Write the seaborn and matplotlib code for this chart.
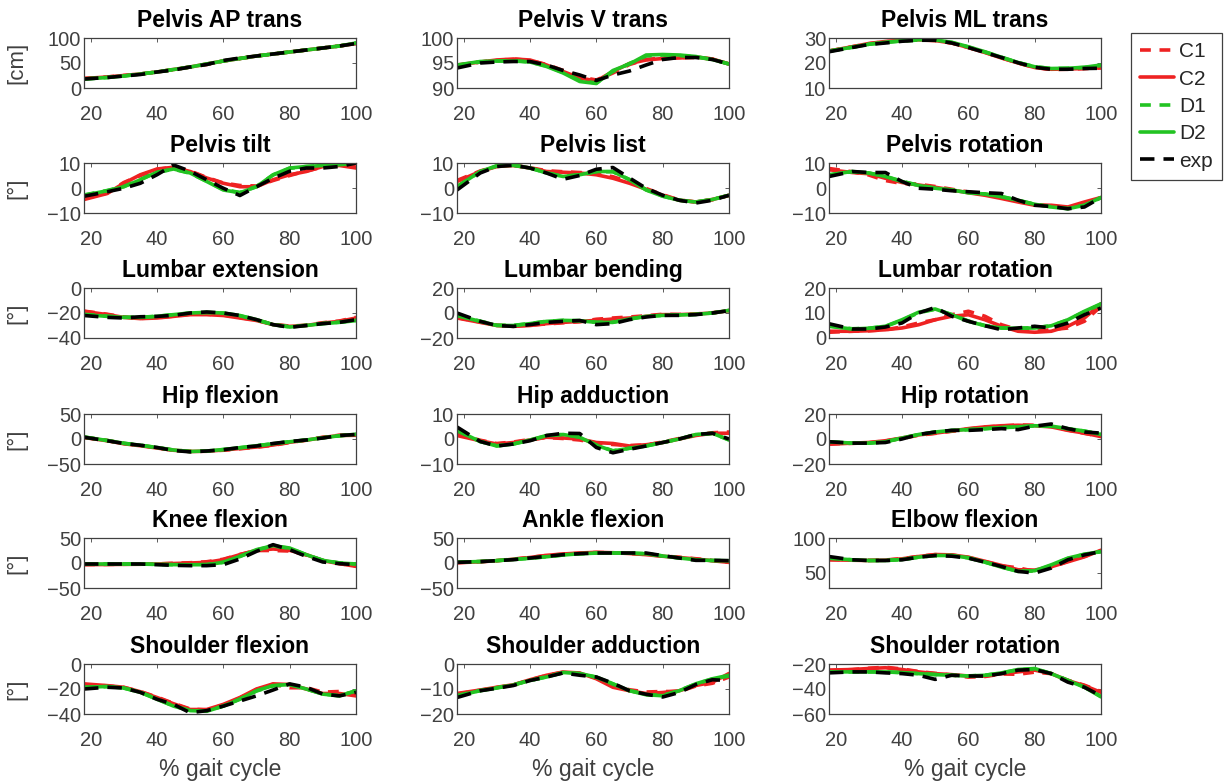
import matplotlib
matplotlib.use("Agg")
import matplotlib.pyplot as plt
import seaborn as sns

# gait cycle samples (% of cycle)
gait = [18, 25, 30, 35, 40, 45, 50, 55, 60, 65, 70, 75, 80, 85, 90, 95, 100]

# ---- values, one dict per panel ----
pelvis_ap = {
    "C1": [19, 22, 25, 28, 32, 37, 42, 47, 54, 59, 64, 68, 72, 76, 80, 84, 89],
    "C2": [19, 22, 25, 28, 32, 37, 42, 48, 54, 59, 64, 68, 72, 76, 80, 84, 89],
    "D1": [18, 21, 24, 28, 32, 37, 42, 48, 54, 59, 64, 68, 72, 76, 80, 84, 90],
    "D2": [18, 21, 24, 28, 32, 37, 42, 48, 54, 59, 64, 68, 72, 76, 80, 84, 90],
    "exp": [18, 21, 24, 27, 32, 36, 42, 47, 55, 60, 64, 68, 72, 76, 80, 84, 89],
}
pelvis_v = {
    "C1": [94.5, 95.2, 95.5, 95.8, 95.5, 94.7, 93.5, 92.2, 91.6, 93.0, 94.7, 95.7, 96.0, 96.1, 96.1, 95.8, 94.8],
    "C2": [94.6, 95.2, 95.6, 95.8, 95.6, 94.6, 93.3, 92.0, 91.4, 93.3, 94.9, 95.6, 95.9, 96.0, 96.2, 95.8, 94.8],
    "D1": [94.5, 95.2, 95.4, 95.5, 95.2, 94.4, 93.1, 91.5, 91.0, 93.3, 94.9, 96.4, 96.6, 96.5, 96.2, 95.7, 94.8],
    "D2": [94.6, 95.3, 95.4, 95.4, 95.2, 94.3, 93.0, 91.3, 90.9, 93.5, 94.8, 96.6, 96.7, 96.6, 96.3, 95.7, 94.8],
    "exp": [94.0, 95.0, 95.2, 95.3, 95.3, 94.6, 93.5, 92.6, 91.5, 92.6, 93.4, 94.6, 95.7, 96.1, 96.1, 95.7, 94.8],
}
pelvis_ml = {
    "C1": [24.8, 26.5, 27.7, 28.5, 29.0, 29.2, 29.0, 28.0, 26.2, 24.3, 22.1, 20.0, 18.2, 17.4, 17.5, 17.8, 18.0],
    "C2": [24.8, 26.5, 27.8, 28.6, 29.0, 29.3, 29.0, 28.0, 26.2, 24.2, 22.0, 20.0, 18.2, 17.5, 17.6, 17.8, 18.2],
    "D1": [24.7, 26.3, 27.5, 28.2, 28.8, 29.2, 29.1, 28.2, 26.4, 24.4, 22.3, 20.2, 18.5, 17.8, 17.9, 18.2, 19.0],
    "D2": [24.8, 26.3, 27.5, 28.3, 28.9, 29.3, 29.2, 28.3, 26.5, 24.5, 22.3, 20.2, 18.5, 17.8, 17.9, 18.3, 19.2],
    "exp": [24.5, 26.2, 27.4, 28.0, 28.7, 29.1, 29.1, 28.0, 26.2, 24.2, 22.2, 20.1, 18.3, 17.5, 17.5, 17.8, 17.9],
}
pelvis_tilt = {
    "C1": [-4.3, -2.0, 2.2, 5.0, 7.4, 8.4, 6.8, 4.2, 2.0, 1.0, 0.8, 3.0, 5.0, 6.8, 8.4, 9.2, 8.6],
    "C2": [-4.6, -2.2, 1.9, 5.3, 7.6, 8.3, 6.6, 4.0, 1.9, 0.5, 0.5, 3.3, 5.3, 6.6, 8.6, 9.0, 8.0],
    "D1": [-2.8, -1.0, 0.6, 3.4, 6.3, 7.5, 5.9, 2.7, -0.6, -1.8, 0.6, 5.2, 7.9, 8.6, 9.0, 9.3, 10.0],
    "D2": [-2.9, -1.1, 0.5, 3.3, 6.3, 7.6, 6.0, 2.6, -0.8, -1.9, 0.5, 5.3, 8.0, 8.6, 9.0, 9.3, 10.0],
    "exp": [-3.3, -1.5, -0.1, 1.9, 5.3, 9.2, 6.7, 3.3, -0.1, -3.0, 0.5, 3.9, 6.7, 8.0, 8.0, 8.6, 10.0],
}
pelvis_list = {
    "C1": [3.0, 6.8, 8.7, 9.1, 8.1, 6.9, 6.5, 6.2, 5.7, 4.5, 2.4, -0.2, -2.7, -4.8, -5.6, -4.7, -3.0],
    "C2": [2.6, 6.6, 8.6, 9.0, 8.0, 6.6, 6.3, 6.0, 5.3, 3.9, 1.9, -0.5, -2.9, -4.9, -5.6, -4.6, -2.9],
    "D1": [0.6, 6.5, 8.8, 9.1, 8.0, 6.1, 4.7, 5.3, 6.5, 6.5, 3.4, -0.7, -3.2, -4.9, -5.6, -4.6, -2.9],
    "D2": [0.5, 6.6, 8.9, 9.1, 8.0, 6.0, 4.6, 5.3, 6.6, 6.6, 3.3, -0.8, -3.3, -4.9, -5.6, -4.6, -2.9],
    "exp": [-0.8, 6.0, 8.6, 9.1, 8.0, 6.0, 3.5, 5.0, 7.5, 8.2, 4.0, -0.1, -2.9, -4.9, -6.0, -4.9, -2.9],
}
pelvis_rot = {
    "C1": [7.8, 6.5, 5.2, 3.0, 1.8, 1.5, 0.6, -0.5, -1.6, -2.6, -3.9, -5.3, -6.6, -7.2, -7.8, -6.0, -3.9],
    "C2": [7.3, 6.2, 5.7, 3.9, 2.2, 1.2, 0.3, -0.8, -1.9, -2.9, -4.2, -5.6, -6.9, -6.9, -7.6, -5.6, -3.8],
    "D1": [5.2, 6.5, 6.0, 4.7, 2.7, 1.1, 0.0, -0.8, -1.8, -2.4, -3.4, -4.9, -6.5, -7.5, -8.2, -6.9, -3.9],
    "D2": [5.3, 6.6, 6.0, 4.6, 2.6, 1.0, -0.1, -0.8, -1.9, -2.4, -3.5, -4.9, -6.5, -7.6, -8.3, -6.9, -3.8],
    "exp": [4.6, 6.6, 6.2, 6.2, 2.6, -0.1, -0.5, -1.1, -1.5, -1.9, -2.2, -4.9, -6.9, -7.4, -8.3, -7.6, -3.8],
}
lumbar_ext = {
    "C1": [-18.5, -21.0, -23.2, -24.3, -23.8, -22.5, -21.0, -21.0, -21.6, -23.6, -25.8, -29.0, -30.5, -29.8, -27.8, -26.4, -23.5],
    "C2": [-18.7, -21.3, -23.5, -24.5, -24.0, -22.7, -21.3, -21.3, -22.0, -24.0, -26.0, -29.3, -30.7, -30.0, -28.0, -26.7, -24.0],
    "D1": [-21.0, -22.5, -23.4, -23.4, -22.6, -21.3, -20.1, -19.6, -20.2, -22.2, -25.5, -29.2, -31.0, -29.8, -28.4, -27.3, -25.8],
    "D2": [-21.3, -22.7, -23.5, -23.5, -22.7, -21.3, -20.0, -19.5, -20.0, -22.0, -25.3, -29.3, -31.2, -30.0, -28.5, -27.5, -26.1],
    "exp": [-22.0, -23.5, -24.0, -23.0, -22.7, -21.9, -20.0, -19.2, -20.0, -22.0, -25.3, -29.3, -31.5, -30.0, -28.5, -27.5, -25.3],
}
lumbar_bend = {
    "C1": [-3.6, -7.2, -9.8, -10.4, -9.6, -8.8, -7.8, -7.0, -5.0, -4.0, -3.2, -2.2, -1.0, -1.2, -0.8, 0.2, 2.0],
    "C2": [-4.0, -7.5, -10.0, -10.7, -10.0, -8.5, -7.5, -6.7, -5.9, -4.8, -4.0, -2.7, -1.3, -1.3, -0.8, 0.0, 1.9],
    "D1": [-2.0, -6.5, -9.8, -9.9, -8.4, -6.6, -5.9, -6.1, -7.4, -7.4, -4.8, -2.7, -1.9, -1.6, -1.1, 0.0, 2.0],
    "D2": [-2.1, -6.7, -10.0, -10.0, -8.5, -6.7, -5.9, -6.2, -7.5, -7.5, -4.8, -2.7, -1.9, -1.6, -1.1, 0.0, 2.1],
    "exp": [0.0, -6.7, -10.0, -10.7, -9.3, -7.5, -6.7, -6.0, -9.3, -8.5, -5.3, -3.2, -1.9, -1.9, -1.3, 0.0, 1.9],
}
lumbar_rot = {
    "C1": [2.3, 2.7, 2.9, 3.3, 4.4, 6.0, 7.3, 9.3, 10.7, 8.7, 5.3, 3.3, 2.7, 3.3, 4.0, 6.7, 12.7],
    "C2": [2.7, 2.7, 2.9, 3.3, 4.0, 5.3, 7.3, 8.7, 9.3, 7.3, 4.7, 2.7, 2.3, 2.7, 4.7, 8.0, 13.7],
    "D1": [4.8, 3.7, 3.9, 4.6, 7.1, 10.1, 11.5, 9.4, 6.8, 5.0, 4.0, 3.9, 4.1, 4.9, 7.2, 10.5, 13.5],
    "D2": [4.7, 3.6, 3.9, 4.7, 7.3, 10.3, 11.6, 9.3, 6.7, 4.9, 4.0, 3.9, 4.0, 4.9, 7.3, 10.7, 13.7],
    "exp": [5.7, 3.6, 3.6, 4.4, 6.0, 10.0, 12.2, 8.7, 6.7, 4.9, 3.3, 4.0, 4.7, 4.0, 6.0, 9.3, 12.0],
}
hip_flex = {
    "C1": [3.5, -3.0, -9.0, -13.0, -17.5, -22.5, -24.5, -24.0, -22.5, -19.5, -16.5, -12.5, -7.0, -2.0, 3.5, 7.5, 8.0],
    "C2": [3.0, -3.5, -9.5, -13.5, -18.0, -22.5, -25.0, -24.5, -22.0, -19.0, -16.0, -12.0, -6.5, -2.5, 3.0, 7.0, 7.5],
    "D1": [4.0, -3.0, -8.6, -12.6, -17.1, -22.1, -25.0, -24.1, -21.2, -17.4, -13.6, -9.4, -5.4, -2.0, 2.4, 6.4, 9.3],
    "D2": [4.0, -3.0, -8.5, -12.5, -17.0, -22.0, -25.0, -24.0, -21.0, -17.5, -13.5, -9.5, -5.5, -2.0, 2.5, 6.5, 9.5],
    "exp": [3.5, -3.5, -9.0, -12.5, -17.0, -23.0, -25.7, -24.0, -21.5, -17.0, -14.0, -9.0, -5.0, -2.0, 2.0, 7.0, 9.0],
}
hip_add = {
    "C1": [2.0, -0.5, -1.8, -1.2, -0.2, 0.6, 0.2, -0.4, -1.6, -2.2, -2.6, -2.4, -1.2, 0.2, 1.6, 2.5, 2.8],
    "C2": [1.4, -0.7, -2.0, -1.4, -0.4, 0.7, 0.4, 0.0, -1.4, -1.8, -2.8, -2.3, -1.4, 0.0, 1.4, 2.3, 2.3],
    "D1": [3.3, -1.0, -2.7, -2.0, -0.5, 1.3, 1.8, 0.8, -2.4, -4.7, -3.7, -2.8, -1.4, 0.0, 1.7, 2.2, -0.3],
    "D2": [3.4, -1.0, -2.8, -2.0, -0.4, 1.4, 1.8, 0.7, -2.5, -4.8, -3.7, -2.8, -1.4, 0.0, 1.8, 2.3, -0.4],
    "exp": [4.8, -1.0, -2.8, -2.0, -0.7, 1.4, 2.3, 2.2, -3.4, -5.5, -4.1, -2.8, -1.4, 0.0, 1.8, 2.3, 0.0],
}
hip_rot = {
    "C1": [-3.8, -3.5, -3.0, -1.6, 0.5, 3.0, 4.5, 6.2, 8.0, 9.5, 10.4, 11.2, 11.0, 10.0, 7.2, 4.5, 2.2],
    "C2": [-4.2, -3.3, -2.8, -1.4, 0.8, 3.3, 4.7, 6.4, 8.3, 9.7, 10.6, 11.0, 10.6, 9.7, 6.9, 4.7, 1.9],
    "D1": [-2.3, -3.3, -3.3, -2.3, 0.7, 3.5, 5.5, 6.8, 7.5, 8.2, 9.1, 9.6, 10.5, 10.2, 8.2, 6.3, 3.8],
    "D2": [-2.2, -3.3, -3.3, -2.2, 0.8, 3.6, 5.6, 6.9, 7.5, 8.3, 9.2, 9.7, 10.6, 10.3, 8.3, 6.4, 3.6],
    "exp": [-2.2, -3.3, -3.3, -2.8, 0.0, 3.6, 5.6, 6.9, 6.9, 7.5, 8.3, 7.5, 10.3, 12.0, 8.3, 5.6, 4.7],
}
knee_flex = {
    "C1": [-3.0, -2.8, -2.5, -2.2, -1.8, -0.5, 0.5, 2.5, 7.5, 17.0, 25.0, 25.0, 24.0, 16.0, 5.0, -1.0, -6.0],
    "C2": [-3.3, -3.0, -2.7, -2.5, -2.0, -1.0, 0.0, 1.3, 6.7, 16.7, 25.3, 28.0, 25.3, 16.7, 4.7, -1.3, -6.7],
    "D1": [-2.0, -2.0, -2.0, -2.2, -2.8, -3.4, -3.6, -3.0, 1.5, 13.0, 26.0, 34.0, 29.5, 16.5, 5.5, 0.2, -2.0],
    "D2": [-2.0, -2.0, -2.0, -2.0, -2.7, -3.3, -3.5, -3.3, 1.3, 13.3, 26.7, 34.7, 30.0, 16.7, 5.3, 0.0, -2.0],
    "exp": [-2.0, -2.0, -2.0, -2.0, -3.3, -4.7, -5.3, -5.3, -3.3, 8.0, 23.3, 36.7, 26.7, 13.3, 2.0, -1.3, -3.3],
}
ankle_flex = {
    "C1": [0.8, 2.8, 4.8, 7.8, 11.2, 15.0, 17.5, 19.5, 21.0, 20.5, 19.2, 17.0, 14.0, 11.5, 8.5, 5.0, 2.0],
    "C2": [0.5, 2.5, 4.5, 7.5, 11.0, 15.3, 18.0, 20.0, 21.3, 20.5, 19.0, 16.7, 13.5, 11.0, 8.0, 4.5, 1.3],
    "D1": [1.5, 3.0, 4.8, 7.0, 9.6, 12.6, 16.0, 18.5, 19.8, 20.0, 19.8, 18.6, 14.2, 10.0, 6.4, 5.0, 4.6],
    "D2": [1.5, 3.0, 4.7, 7.0, 9.5, 12.5, 16.0, 18.5, 19.8, 20.0, 19.8, 18.5, 14.0, 10.0, 6.5, 5.0, 4.5],
    "exp": [1.3, 2.7, 4.7, 6.7, 10.0, 13.3, 16.7, 18.7, 20.0, 20.0, 20.0, 20.0, 14.7, 10.0, 5.3, 5.3, 4.7],
}
elbow_flex = {
    "C1": [69.0, 68.2, 67.8, 68.3, 70.2, 73.5, 76.0, 75.5, 72.0, 66.0, 60.0, 57.0, 52.0, 57.5, 66.5, 73.5, 81.5],
    "C2": [68.6, 68.0, 67.6, 68.0, 70.0, 73.3, 76.2, 75.7, 72.4, 66.5, 60.5, 54.3, 53.8, 58.6, 65.7, 72.9, 82.4],
    "D1": [71.0, 68.6, 67.6, 67.6, 69.0, 72.3, 74.6, 74.6, 71.4, 65.3, 58.3, 52.2, 52.5, 60.5, 70.5, 76.5, 80.3],
    "D2": [71.0, 68.6, 67.6, 67.6, 69.0, 72.4, 74.8, 74.8, 71.5, 65.2, 58.0, 51.9, 52.9, 61.4, 71.0, 76.7, 80.5],
    "exp": [73.3, 68.6, 67.6, 67.6, 68.6, 72.4, 74.8, 73.8, 71.0, 65.2, 59.0, 51.9, 49.5, 56.7, 68.6, 75.7, 80.5],
}
shoulder_flex = {
    "C1": [-16.5, -17.5, -18.8, -22.0, -26.5, -31.5, -36.0, -36.8, -32.8, -27.2, -20.5, -16.2, -19.0, -19.0, -22.5, -22.0, -24.5],
    "C2": [-15.9, -17.3, -18.6, -22.2, -26.8, -31.8, -36.4, -36.4, -32.3, -26.8, -20.0, -15.9, -16.4, -20.0, -23.6, -23.6, -25.5],
    "D1": [-18.7, -18.1, -19.3, -22.6, -28.0, -33.5, -37.2, -37.6, -33.6, -28.0, -21.6, -17.5, -16.5, -20.0, -24.0, -25.3, -21.6],
    "D2": [-18.6, -18.0, -19.2, -22.7, -28.2, -33.7, -37.3, -37.8, -33.7, -28.2, -21.4, -17.3, -16.4, -20.0, -24.1, -25.5, -21.4],
    "exp": [-20.0, -18.6, -19.2, -22.7, -28.2, -32.3, -39.0, -37.3, -33.7, -29.6, -25.5, -20.8, -15.9, -18.6, -24.1, -25.5, -22.7],
}
shoulder_add = {
    "C1": [-12.0, -10.5, -9.4, -8.4, -6.4, -4.6, -3.3, -3.8, -5.6, -8.8, -10.3, -11.2, -11.0, -11.0, -8.8, -7.7, -5.2],
    "C2": [-11.8, -10.4, -9.3, -8.3, -6.3, -4.5, -3.2, -3.6, -5.9, -9.3, -10.7, -11.8, -11.4, -10.7, -8.6, -7.3, -3.8],
    "D1": [-12.6, -10.6, -9.5, -8.3, -6.6, -5.1, -3.5, -3.9, -5.3, -8.0, -10.6, -12.2, -12.6, -10.6, -8.0, -6.0, -4.8],
    "D2": [-12.7, -10.7, -9.6, -8.4, -6.6, -5.2, -3.4, -3.8, -5.2, -7.9, -10.7, -12.3, -12.7, -10.7, -7.9, -5.9, -4.5],
    "exp": [-13.4, -10.7, -9.7, -8.6, -6.6, -5.2, -3.6, -4.5, -5.2, -7.7, -10.7, -12.1, -13.2, -11.4, -8.2, -6.3, -6.6],
}
shoulder_rot = {
    "C1": [-25.2, -24.5, -23.4, -22.6, -24.0, -26.0, -27.5, -28.8, -30.5, -30.0, -28.0, -28.2, -26.5, -27.7, -33.0, -37.0, -42.0],
    "C2": [-24.9, -24.4, -23.6, -23.0, -24.4, -26.3, -27.7, -28.5, -29.6, -29.6, -27.7, -26.3, -24.9, -27.7, -33.2, -37.3, -42.7],
    "D1": [-26.4, -26.3, -26.3, -26.4, -26.9, -27.7, -28.4, -29.0, -29.5, -29.0, -27.2, -24.6, -23.8, -27.6, -33.0, -38.4, -46.0],
    "D2": [-26.3, -26.3, -26.3, -26.3, -26.8, -27.7, -28.5, -29.0, -29.6, -29.0, -27.1, -24.4, -23.6, -27.7, -33.2, -38.6, -46.3],
    "exp": [-27.1, -26.3, -26.3, -27.1, -27.7, -29.0, -32.3, -29.0, -29.6, -29.6, -27.7, -24.9, -24.4, -27.7, -34.5, -38.6, -45.5],
}

# panel order (row by row), titles, units and y limits
titles = ["Pelvis AP trans", "Pelvis V trans", "Pelvis ML trans",
          "Pelvis tilt", "Pelvis list", "Pelvis rotation",
          "Lumbar extension", "Lumbar bending", "Lumbar rotation",
          "Hip flexion", "Hip adduction", "Hip rotation",
          "Knee flexion", "Ankle flexion", "Elbow flexion",
          "Shoulder flexion", "Shoulder adduction", "Shoulder rotation"]
panels = [pelvis_ap, pelvis_v, pelvis_ml,
          pelvis_tilt, pelvis_list, pelvis_rot,
          lumbar_ext, lumbar_bend, lumbar_rot,
          hip_flex, hip_add, hip_rot,
          knee_flex, ankle_flex, elbow_flex,
          shoulder_flex, shoulder_add, shoulder_rot]
ylims = [(0, 100), (90, 100), (10, 30),
         (-10, 10), (-10, 10), (-10, 10),
         (-40, 0), (-20, 20), (0, 20),
         (-50, 50), (-10, 10), (-20, 20),
         (-50, 50), (-50, 50), (28, 100),
         (-40, 0), (-20, 0), (-60, -20)]
yticks = [[0, 50, 100], [90, 95, 100], [10, 20, 30],
          [-10, 0, 10], [-10, 0, 10], [-10, 0, 10],
          [-40, -20, 0], [-20, 0, 20], [0, 10, 20],
          [-50, 0, 50], [-10, 0, 10], [-20, 0, 20],
          [-50, 0, 50], [-50, 0, 50], [50, 100],
          [-40, -20, 0], [-20, -10, 0], [-60, -40, -20]]
row_units = ["[cm]", "[°]", "[°]", "[°]", "[°]", "[°]"]

series = ["C1", "C2", "D1", "D2", "exp"]
colors = {"C1": "#ee2222", "C2": "#ee2222", "D1": "#22c322", "D2": "#22c322", "exp": "black"}
styles = {"C1": (0, (3, 2.4)), "C2": "-", "D1": (0, (3, 2.4)), "D2": "-", "exp": (0, (4, 2.5))}

sns.set_theme(style="white")
plt.rcParams["font.family"] = ["Liberation Sans", "DejaVu Sans"]

W, H = 1227, 783
fig = plt.figure(figsize=(W / 100, H / 100), dpi=100)

col_left = [84, 457, 829]
row_top = [38, 163, 288, 414, 538, 664]
ax_w, ax_h = 272, 50

for i, data in enumerate(panels):
    r, c = divmod(i, 3)
    ax = fig.add_axes([col_left[c] / W, 1 - (row_top[r] + ax_h) / H, ax_w / W, ax_h / H])
    for s in series:
        sns.lineplot(x=gait, y=data[s], ax=ax, color=colors[s], linestyle=styles[s],
                     linewidth=2.6, label=s, legend=False)
    ax.set_xlim(18, 100)
    ax.set_ylim(*ylims[i])
    ax.set_xticks([20, 40, 60, 80, 100])
    ax.set_yticks(yticks[i])
    ax.tick_params(direction="in", top=True, right=True, length=3, width=0.6,
                   labelsize=14.5, labelcolor="#404040", color="#404040")
    ax.tick_params(axis="x", pad=12)
    ax.tick_params(axis="y", pad=2)
    for sp in ax.spines.values():
        sp.set_color("#404040")
        sp.set_linewidth(0.9)
    ax.set_title(titles[i], fontsize=16.5, fontweight="bold", color="black", pad=8)
    ax.set_xlabel("")
    ax.set_ylabel("")
    if c == 0:
        ax.set_ylabel(row_units[r], fontsize=16, color="#404040")
        ax.yaxis.set_label_coords(-0.21, 0.5)
    if r == 5:
        ax.set_xlabel("% gait cycle", fontsize=16.5, color="#404040", labelpad=6)
    if i == 0:
        handles, labels = ax.get_legend_handles_labels()

leg = fig.legend(handles, labels, loc="upper left", bbox_to_anchor=(1131 / W, 1 - 33 / H),
                 fontsize=15, frameon=True, fancybox=False, framealpha=1,
                 edgecolor="#404040", handlelength=1.6, handletextpad=0.25,
                 labelspacing=0.4, borderpad=0.45, borderaxespad=0)
leg.get_frame().set_linewidth(0.9)

fig.savefig("out.png", dpi=100)
